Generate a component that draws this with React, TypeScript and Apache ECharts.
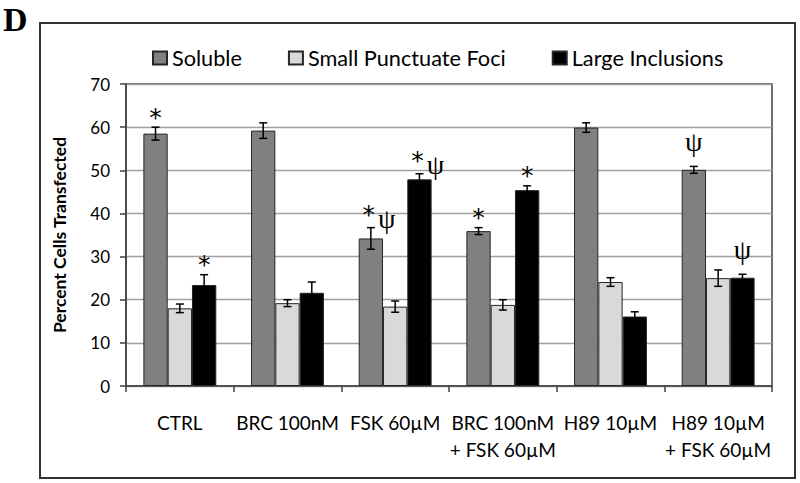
import React, { useEffect, useRef } from "react";
import * as echarts from "echarts";

const categories = ["CTRL", "BRC 100nM", "FSK 60µM", "BRC 100nM\n+ FSK 60µM", "H89 10µM", "H89 10µM\n+ FSK 60µM"];
const seriesNames = ["Soluble", "Small Punctuate Foci", "Large Inclusions"];
const soluble = [58.5, 59.2, 34.2, 35.9, 59.9, 50.1];
const solubleErr = [1.5, 1.8, 2.5, 0.8, 1.1, 0.8];
const small = [18.0, 19.2, 18.4, 18.8, 24.1, 25.0];
const smallErr = [1.0, 0.8, 1.3, 1.2, 1.0, 1.9];
const large = [23.4, 21.6, 47.9, 45.4, 16.1, 25.1];
const largeErr = [2.4, 2.5, 1.3, 1.0, 1.1, 0.8];
const solubleMarks = ["*", "", "*ψ", "*", "", "ψ"];
const smallMarks = ["", "", "", "", "", ""];
const largeMarks = ["*", "", "*ψ", "*", "", "ψ"];
const yTicks = [0, 10, 20, 30, 40, 50, 60, 70];

const colors = ["#808080", "#d9d9d9", "#000000"];
const BAR_W = 24.3;
const FONT = "Lato, 'Open Sans', sans-serif";

function errSeries(name: string, means: number[], errs: number[], marks: string[], offset: number) {
  return {
    type: "custom",
    name: name + "-err",
    z: 10,
    silent: true,
    encode: { x: 0, y: 1 },
    data: means.map((m, i) => [i, m, errs[i]]),
    renderItem: (params: any, api: any) => {
      const idx = api.value(0);
      const mean = api.value(1);
      const err = api.value(2);
      const c = api.coord([idx, mean]);
      const x = c[0] + offset;
      const yTop = api.coord([idx, mean + err])[1];
      const yBot = api.coord([idx, mean - err])[1];
      const ls = { stroke: "#000", lineWidth: 1.5 };
      const children: any[] = [
        { type: "line", shape: { x1: x, y1: yTop, x2: x, y2: yBot }, style: ls },
        { type: "line", shape: { x1: x - 4, y1: yTop, x2: x + 4, y2: yTop }, style: ls },
        { type: "line", shape: { x1: x - 4, y1: yBot, x2: x + 4, y2: yBot }, style: ls },
      ];
      const mk = marks[params.dataIndex];
      const starFont = "25px 'DejaVu Sans', sans-serif";
      const psiFont = "28px 'Liberation Serif', serif";
      if (mk === "*") {
        children.push({ type: "text", style: { text: "*", x, y: yTop - 10, font: starFont, fill: "#000", align: "center", verticalAlign: "middle" } });
      } else if (mk === "ψ") {
        children.push({ type: "text", style: { text: "ψ", x, y: yTop - 25, font: psiFont, fill: "#000", align: "center", verticalAlign: "middle" } });
      } else if (mk === "*ψ") {
        children.push({ type: "text", style: { text: "*", x: x - 2, y: yTop - 13.5, font: starFont, fill: "#000", align: "center", verticalAlign: "middle" } });
        children.push({ type: "text", style: { text: "ψ", x: x + 16, y: yTop - 9, font: psiFont, fill: "#000", align: "center", verticalAlign: "middle" } });
      }
      return { type: "group", children };
    },
  };
}

export default function App() {
  const ref = useRef<HTMLDivElement>(null);
  useEffect(() => {
    if (!ref.current) return;
    const chart = echarts.init(ref.current, null, { renderer: "svg" });
    const barStyle = (i: number) => ({ color: colors[i], borderColor: "#262626", borderWidth: 1 });
    chart.setOption({
      animation: false,
      backgroundColor: "#fff",
      textStyle: { fontFamily: FONT },
      graphic: [
        { type: "rect", shape: { x: 40, y: 23, width: 755, height: 455 }, style: { fill: "none", stroke: "#333", lineWidth: 2 }, z: -1 },
        { type: "text", left: 3, top: 2, style: { text: "D", font: "bold 34px 'Liberation Serif', 'Times New Roman', serif", fill: "#000" } },
      ],
      legend: {
        data: seriesNames,
        left: 147,
        top: 42,
        itemGap: 46,
        itemWidth: 14,
        itemHeight: 13,
        icon: "rect",
        textStyle: { fontSize: 21.7, fontFamily: FONT, color: "#000" },
      },
      grid: {
        left: 126,
        right: 28,
        top: 84,
        bottom: 97,
        show: true,
        borderColor: "#404040",
        borderWidth: 1.5,
        containLabel: false,
      },
      xAxis: {
        type: "category",
        data: categories,
        axisLine: { lineStyle: { color: "#404040", width: 1.5 } },
        axisTick: { show: true, length: 6, lineStyle: { color: "#404040", width: 1.5 } },
        axisLabel: { fontSize: 19, fontFamily: FONT, color: "#000", margin: 23, lineHeight: 27, interval: 0 },
      },
      yAxis: {
        type: "value",
        min: yTicks[0],
        max: yTicks[yTicks.length - 1],
        interval: 10,
        name: "Percent Cells Transfected",
        nameLocation: "middle",
        nameGap: 58,
        nameTextStyle: { fontSize: 17.5, fontWeight: "bold", fontFamily: FONT, color: "#000" },
        axisLine: { show: true, lineStyle: { color: "#404040", width: 1.5 } },
        axisTick: { show: true, length: 6, lineStyle: { color: "#404040", width: 1.5 } },
        axisLabel: { fontSize: 17, fontFamily: FONT, color: "#000", margin: 16 },
        splitLine: { show: true, lineStyle: { color: "#a0a0a0", width: 1.3 } },
      },
      series: [
        { type: "bar", name: seriesNames[0], data: soluble, barWidth: BAR_W, barGap: "0%", itemStyle: barStyle(0) },
        { type: "bar", name: seriesNames[1], data: small, barWidth: BAR_W, barGap: "0%", itemStyle: barStyle(1) },
        { type: "bar", name: seriesNames[2], data: large, barWidth: BAR_W, barGap: "0%", itemStyle: barStyle(2) },
        errSeries(seriesNames[0], soluble, solubleErr, solubleMarks, -BAR_W),
        errSeries(seriesNames[1], small, smallErr, smallMarks, 0),
        errSeries(seriesNames[2], large, largeErr, largeMarks, BAR_W),
      ],
    });
    return () => chart.dispose();
  }, []);
  return <div ref={ref} style={{ position: "fixed", left: 0, top: 0, width: 800, height: 483 }} />;
}
